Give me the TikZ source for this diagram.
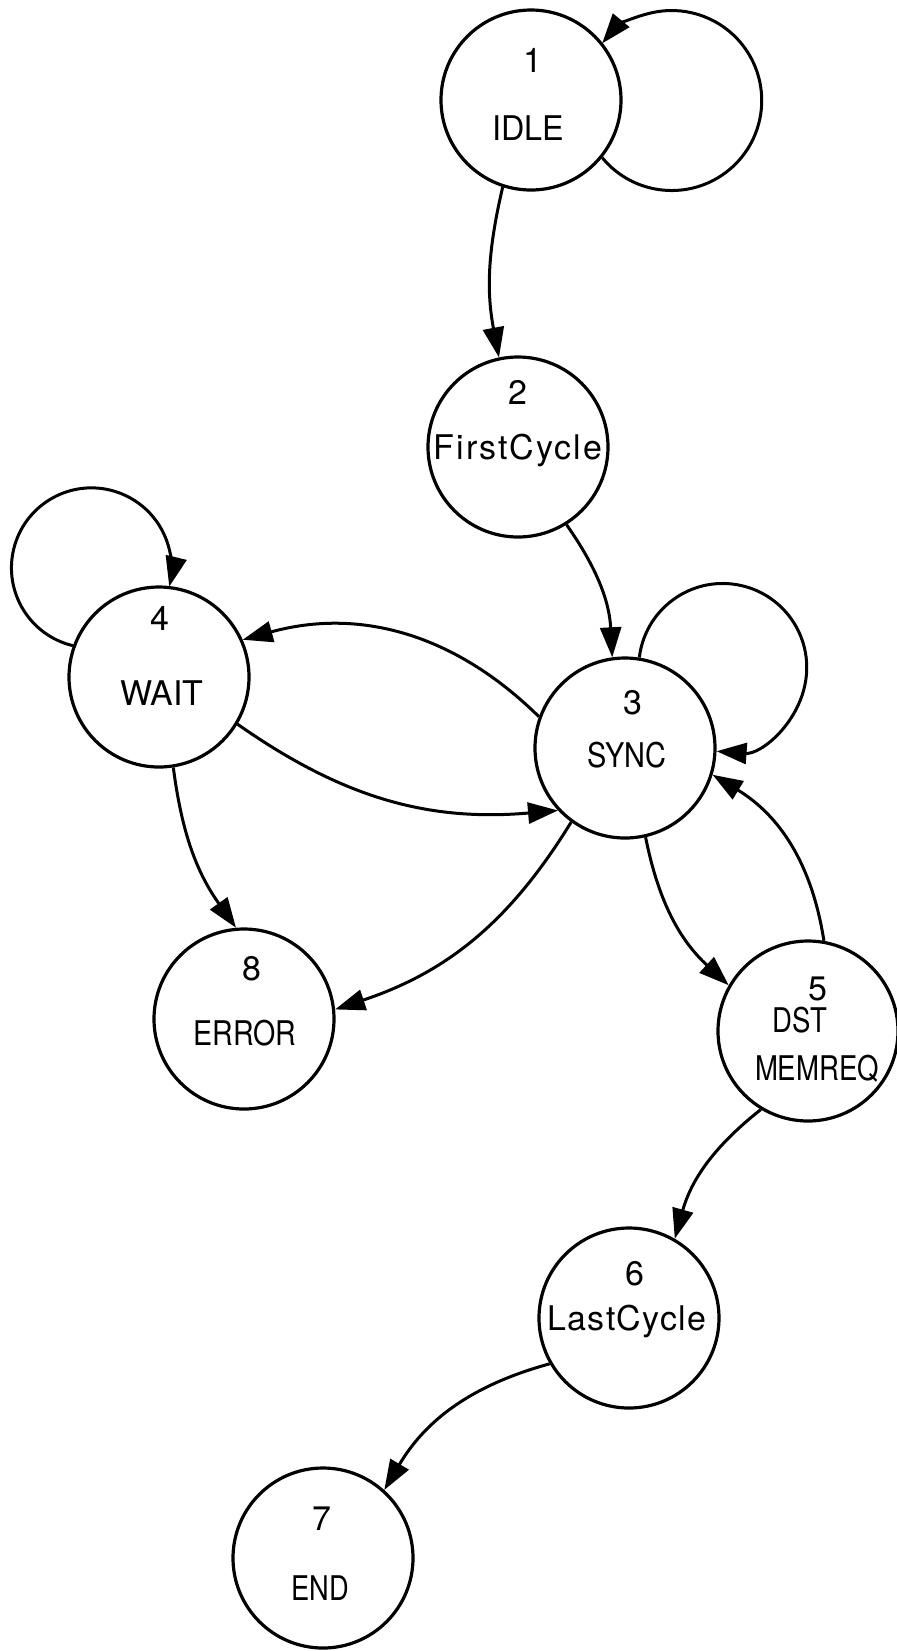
\documentclass[tikz,border=0pt]{standalone}
\usepackage{graphicx}
\usepackage{fontspec}
\setmainfont{TeX Gyre Heros}
\newfontfamily\widefont{TeX Gyre Heros}[LetterSpace=6]
\newfontfamily\semiwidefont{TeX Gyre Heros}[LetterSpace=4]
\usetikzlibrary{arrows.meta}
\newcommand{\narrow}[2]{\scalebox{#1}[1]{#2}}

\begin{document}
\begin{tikzpicture}[x=0.5pt, y=0.5pt,
      state/.style = {draw, circle, line width=1.6pt, minimum size=90pt, inner sep=0pt},
      lbl/.style = {inner sep=0pt, text height=12pt, text depth=0pt, font=\fontsize{17}{20}\selectfont},
      trans/.style = {line width=1.5pt, -{Triangle[length=15pt, width=10.5pt]}}
      ]
      \useasboundingbox (0,0) rectangle (897,-1651);

      \node[state] (s1) at (531,-100) {};
      \node[state] (s2) at (518,-447) {};
      \node[state] (s3) at (625,-748) {};
      \node[state] (s4) at (159,-677) {};
      \node[state] (s5) at (808,-1031) {};
      \node[state] (s6) at (629,-1318) {};
      \node[state] (s7) at (323,-1558) {};
      \node[state] (s8) at (244,-1019) {};

      \node[lbl] (s1num) at ([shift={(2,40)}]s1) {1};
      \node[lbl] (s1name) at ([shift={(-3,-28)}]s1) {\narrow{0.95}{IDLE}};
      \node[lbl] (s2num) at ([shift={(0,55)}]s2) {2};
      \node[lbl] (s2name) at ([shift={(0,0)}]s2) {\widefont FirstCycle};
      \node[lbl] (s3num) at ([shift={(8,46)}]s3) {3};
      \node[lbl] (s3name) at ([shift={(2,-7)}]s3) {\narrow{0.85}{SYNC}};
      \node[lbl] (s4num) at ([shift={(1,59)}]s4) {4};
      \node[lbl] (s4name) at ([shift={(3,-16)}]s4) {WAIT};
      \node[lbl] (s5num) at ([shift={(10,43)}]s5) {5};
      \node[lbl] (s5name) at ([shift={(-8,11)}]s5) {\narrow{0.81}{DST}};
      \node[lbl] (s5name2) at ([shift={(9,-37)}]s5) {\narrow{0.81}{MEMREQ}};
      \node[lbl] (s6num) at ([shift={(6,45)}]s6) {6};
      \node[lbl] (s6name) at ([shift={(-2,0)}]s6) {\semiwidefont LastCycle};
      \node[lbl] (s7num) at ([shift={(-1,40)}]s7) {7};
      \node[lbl] (s7name) at ([shift={(-3,-30)}]s7) {\narrow{0.8}{END}};
      \node[lbl] (s8num) at ([shift={(8,51)}]s8) {8};
      \node[lbl] (s8name) at ([shift={(1,-14)}]s8) {\narrow{0.84}{ERROR}};

      \draw[trans] (s1.-39) arc[start angle=-140.6, end angle=140.6, radius=90];
      \draw[trans] (s3.81) arc[start angle=173.2, end angle=-94.2, radius=84];
      \draw[trans] (s4.160) arc[start angle=-103.4, end angle=-373.5, radius=80];

      \draw[trans] (s1.252) to[bend right=12] (s2.102);
      \draw[trans] (s2.-58) to[bend left=16] (s3.98);
      \draw[trans] (s3.160) to[bend right=30] (s4.24);
      \draw[trans] (s4.-31) to[bend right=20] (s3.223);
      \draw[trans] (s3.-126) to[bend left=20] (s8.6);
      \draw[trans] (s4.-81) to[bend right=14] (s8.95);
      \draw[trans] (s3.-77) to[bend right=18] (s5.150);
      \draw[trans] (s5.80) to[bend right=25] (s3.-17);
      \draw[trans] (s5.-121) to[bend right=18] (s6.60);
      \draw[trans] (s6.210) to[bend right=22] (s7.48);
\end{tikzpicture}
\end{document}
